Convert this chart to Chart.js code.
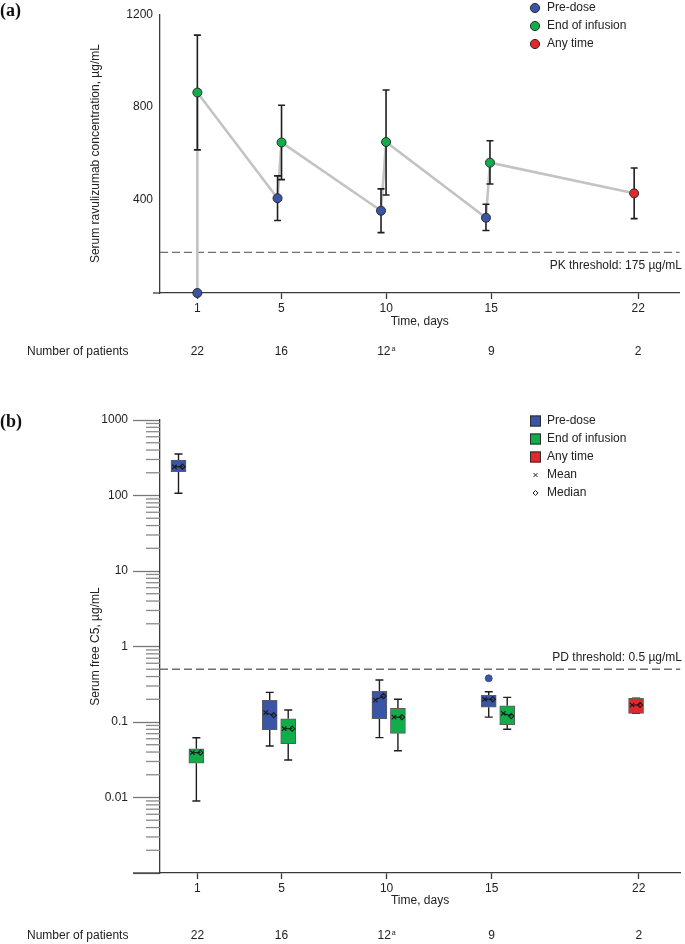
<!DOCTYPE html>
<html>
<head>
<meta charset="utf-8">
<script src="https://cdn.jsdelivr.net/npm/chart.js@4.4.1/dist/chart.umd.min.js"></script>
<style>
  body { margin: 0; background: #fff; }
  #wrap { position: relative; width: 685px; height: 944px; }
  canvas { position: absolute; left: 0; }
  #pk { top: 0; }
  #pd { top: 380px; }
</style>
</head>
<body>
<div id="wrap">
  <canvas id="pk" width="685" height="380"></canvas>
  <canvas id="pd" width="685" height="564"></canvas>
</div>
<script>
// shared x axis
const dayTicks = [1, 5, 10, 15, 22];
const patientCounts = ['22', '16', '12', '9', '2'];
const patientNotes = ['', '', 'a', '', ''];

// (a) serum ravulizumab, mean and error bars
const pkPreX = [1, 4.82, 9.75, 14.75];
const pkPreMean = [0, 408, 354, 324];
const pkPreLow = [null, 312, 260, 269];
const pkPreHigh = [null, 504, 448, 382];
const pkEoiX = [1, 5.01, 9.99, 14.94];
const pkEoiMean = [863, 648, 650, 561];
const pkEoiLow = [616, 488, 422, 469];
const pkEoiHigh = [1110, 808, 874, 655];
const pkAnyX = [21.81];
const pkAnyMean = [429];
const pkAnyLow = [320];
const pkAnyHigh = [538];
const pkTicks = [400, 800, 1200];
const pkThreshold = 175;

// (b) serum free C5, box plots
const pdPreX = [0.10, 4.44, 9.66, 14.86];
const pdPreLow = [107, 0.048, 0.062, 0.116];
const pdPreQ1 = [207, 0.079, 0.111, 0.157];
const pdPreQ3 = [295, 0.194, 0.255, 0.226];
const pdPreHigh = [355, 0.247, 0.36, 0.252];
const pdPreMean = [240, 0.133, 0.195, 0.200];
const pdPreMedian = [241, 0.123, 0.221, 0.200];
const pdEoiX = [0.95, 5.32, 10.54, 15.74];
const pdEoiLow = [0.009, 0.0314, 0.0417, 0.080];
const pdEoiQ1 = [0.0284, 0.0516, 0.0708, 0.092];
const pdEoiQ3 = [0.0442, 0.110, 0.152, 0.164];
const pdEoiHigh = [0.0619, 0.144, 0.200, 0.212];
const pdEoiMean = [0.0392, 0.0815, 0.116, 0.130];
const pdEoiMedian = [0.0392, 0.0815, 0.116, 0.120];
const pdAnyX = [21.87];
const pdAnyLow = [0.130];
const pdAnyQ1 = [0.130];
const pdAnyQ3 = [0.206];
const pdAnyHigh = [0.206];
const pdAnyMean = [0.168];
const pdAnyMedian = [0.168];
const pdOutlierX = [14.86];
const pdOutlierY = [0.379];
const pdLabelTicks = [0.01, 0.1, 1, 10, 100, 1000];
const pdThreshold = 0.5;

const C_PRE = '#3a54a6', C_EOI = '#11ad4b', C_ANY = '#e3272a';
const INK = '#222';
const AXIS = '#3a3a3a';
const FONT = '"Liberation Sans", Arial, sans-serif';

Chart.defaults.font.family = FONT;
Chart.defaults.font.size = 12;
Chart.defaults.color = INK;

const pts = (xs, ys) => xs.map((x, i) => ({ x, y: ys[i] }));
const boxes = (xs, lo, hi) => xs.map((x, i) => ({ x, y: [lo[i], hi[i]] }));

const pkPath = [];
pkPreX.forEach((x, i) => {
  pkPath.push({ x, y: pkPreMean[i] });
  pkPath.push({ x: pkEoiX[i], y: pkEoiMean[i] });
});
pkPath.push({ x: pkAnyX[0], y: pkAnyMean[0] });

function threshold(chart, value, text, textDy) {
  const { ctx, chartArea: a, scales: { y } } = chart;
  const py = y.getPixelForValue(value);
  ctx.save();
  ctx.strokeStyle = '#6e6e6e';
  ctx.lineWidth = 1.3;
  ctx.setLineDash([8, 4]);
  ctx.beginPath();
  ctx.moveTo(a.left, py);
  ctx.lineTo(a.right, py);
  ctx.stroke();
  ctx.setLineDash([]);
  ctx.fillStyle = INK;
  ctx.font = '12px ' + FONT;
  ctx.textAlign = 'right';
  ctx.textBaseline = 'middle';
  ctx.fillText(text, 682, py + textDy);
  ctx.restore();
}

function axisStub(chart, fromX) {
  const { ctx, chartArea: a } = chart;
  ctx.save();
  ctx.strokeStyle = AXIS;
  ctx.lineWidth = 1.3;
  ctx.beginPath();
  ctx.moveTo(fromX, a.bottom);
  ctx.lineTo(a.left, a.bottom);
  ctx.stroke();
  ctx.restore();
}

function patientRow(chart, cy) {
  const { ctx, scales: { x } } = chart;
  ctx.save();
  ctx.fillStyle = INK;
  ctx.textBaseline = 'middle';
  ctx.textAlign = 'left';
  ctx.font = '12px ' + FONT;
  ctx.fillText('Number of patients', 27, cy);
  dayTicks.forEach((d, i) => {
    const cx = x.getPixelForValue(d);
    ctx.font = '12px ' + FONT;
    const w = ctx.measureText(patientCounts[i]).width;
    ctx.font = '7px ' + FONT;
    const wn = patientNotes[i] ? ctx.measureText(patientNotes[i]).width + 1 : 0;
    const left = cx - (w + wn) / 2;
    ctx.font = '12px ' + FONT;
    ctx.fillText(patientCounts[i], left, cy);
    if (patientNotes[i]) {
      ctx.font = '7px ' + FONT;
      ctx.fillText(patientNotes[i], left + w + 1, cy - 3);
    }
  });
  ctx.restore();
}

function panelTag(chart, text, cy) {
  const ctx = chart.ctx;
  ctx.save();
  ctx.fillStyle = '#111';
  ctx.font = 'bold 18px "Liberation Serif", "Times New Roman", serif';
  ctx.textAlign = 'left';
  ctx.textBaseline = 'middle';
  ctx.fillText(text, 0, cy);
  ctx.restore();
}

function errorBars(chart, xs, lo, hi) {
  const { ctx, scales: { x, y } } = chart;
  ctx.save();
  ctx.strokeStyle = '#1e1e1e';
  ctx.lineWidth = 1.6;
  xs.forEach((xv, i) => {
    if (lo[i] == null) return;
    const px = x.getPixelForValue(xv);
    const y1 = y.getPixelForValue(lo[i]);
    const y2 = y.getPixelForValue(hi[i]);
    ctx.beginPath();
    ctx.moveTo(px, y1); ctx.lineTo(px, y2);
    ctx.moveTo(px - 3.5, y1); ctx.lineTo(px + 3.5, y1);
    ctx.moveTo(px - 3.5, y2); ctx.lineTo(px + 3.5, y2);
    ctx.stroke();
  });
  ctx.restore();
}

const pkPlugin = {
  id: 'pkExtras',
  beforeDatasetsDraw(chart) {
    axisStub(chart, 153);
    threshold(chart, pkThreshold, 'PK threshold: 175 µg/mL', 13);
  },
  afterDatasetDraw(chart, args) {
    if (args.index !== 0) return;
    errorBars(chart, pkPreX, pkPreLow, pkPreHigh);
    errorBars(chart, pkEoiX, pkEoiLow, pkEoiHigh);
    errorBars(chart, pkAnyX, pkAnyLow, pkAnyHigh);
  },
  afterDraw(chart) {
    const ctx = chart.ctx;
    const items = [['Pre-dose', C_PRE], ['End of infusion', C_EOI], ['Any time', C_ANY]];
    ctx.save();
    ctx.font = '12px ' + FONT;
    ctx.textBaseline = 'middle';
    ctx.textAlign = 'left';
    items.forEach(([label, color], i) => {
      const cy = 8 + i * 18;
      ctx.beginPath();
      ctx.arc(535, cy, 4.6, 0, Math.PI * 2);
      ctx.fillStyle = color;
      ctx.fill();
      ctx.lineWidth = 1;
      ctx.strokeStyle = '#2b2b2b';
      ctx.stroke();
      ctx.fillStyle = INK;
      ctx.fillText(label, 547, cy);
    });
    ctx.restore();
    patientRow(chart, 352);
    panelTag(chart, '(a)', 11);
  }
};

const pointStyle = color => ({
  backgroundColor: color,
  borderColor: '#2b2b2b',
  borderWidth: 1,
  pointRadius: 4.5,
  order: 1,
  clip: false
});

new Chart(document.getElementById('pk'), {
  type: 'scatter',
  data: {
    datasets: [
      { type: 'line', data: pkPath, borderColor: '#c3c3c3', borderWidth: 2.6, pointRadius: 0, order: 3, clip: false },
      { label: 'Pre-dose', data: pts(pkPreX, pkPreMean), ...pointStyle(C_PRE) },
      { label: 'End of infusion', data: pts(pkEoiX, pkEoiMean), ...pointStyle(C_EOI) },
      { label: 'Any time', data: pts(pkAnyX, pkAnyMean), ...pointStyle(C_ANY) }
    ]
  },
  options: {
    responsive: false,
    animation: false,
    events: [],
    layout: { padding: { top: 8, left: 0, right: 0, bottom: 0 } },
    plugins: { legend: { display: false }, tooltip: { enabled: false } },
    scales: {
      x: {
        type: 'linear', min: -0.78, max: 23.97,
        afterBuildTicks: s => { s.ticks = dayTicks.map(v => ({ value: v })); },
        grid: { drawOnChartArea: false, tickLength: 6, tickColor: AXIS, tickWidth: 1.3 },
        border: { color: AXIS, width: 1.3 },
        ticks: { padding: 2, autoSkip: false, maxRotation: 0, callback: v => String(v) },
        title: { display: true, text: 'Time, days', padding: { top: 0, bottom: 51 } },
        afterFit: s => { s.height = 87; }
      },
      y: {
        type: 'linear', min: 0, max: 1200,
        afterBuildTicks: s => { s.ticks = pkTicks.map(v => ({ value: v })); },
        grid: { drawOnChartArea: false, drawTicks: false },
        border: { color: AXIS, width: 1.3 },
        ticks: { padding: 7, autoSkip: false, callback: v => String(v) },
        title: { display: true, text: 'Serum ravulizumab concentration, µg/mL', padding: { top: 88, bottom: 0 } },
        afterFit: s => { s.width = 160; }
      }
    }
  },
  plugins: [pkPlugin]
});

// (b)
const pdGroups = [
  { xs: pdPreX, lo: pdPreLow, q1: pdPreQ1, q3: pdPreQ3, hi: pdPreHigh, mean: pdPreMean, med: pdPreMedian },
  { xs: pdEoiX, lo: pdEoiLow, q1: pdEoiQ1, q3: pdEoiQ3, hi: pdEoiHigh, mean: pdEoiMean, med: pdEoiMedian },
  { xs: pdAnyX, lo: pdAnyLow, q1: pdAnyQ1, q3: pdAnyQ3, hi: pdAnyHigh, mean: pdAnyMean, med: pdAnyMedian }
];

const isDecade = v => Math.abs(Math.log10(v) - Math.round(Math.log10(v))) < 1e-9;
const logTicks = [];
for (let e = -3; e <= 2; e++) {
  for (let k = 1; k <= 9; k++) logTicks.push(k * Math.pow(10, e));
}
logTicks.push(1000);

function drawCross(ctx, cx, cy, r) {
  ctx.beginPath();
  ctx.moveTo(cx - r, cy - r); ctx.lineTo(cx + r, cy + r);
  ctx.moveTo(cx - r, cy + r); ctx.lineTo(cx + r, cy - r);
  ctx.stroke();
}
function drawDiamond(ctx, cx, cy, r) {
  ctx.beginPath();
  ctx.moveTo(cx, cy - r); ctx.lineTo(cx + r, cy);
  ctx.lineTo(cx, cy + r); ctx.lineTo(cx - r, cy);
  ctx.closePath();
  ctx.stroke();
}

const pdPlugin = {
  id: 'pdExtras',
  beforeDatasetsDraw(chart) {
    const { ctx, chartArea: a, scales: { x, y } } = chart;
    axisStub(chart, 133);
    // minor ticks on the log axis
    ctx.save();
    ctx.strokeStyle = '#8a8a8a';
    ctx.lineWidth = 1.3;
    logTicks.filter(v => !isDecade(v)).forEach(v => {
      const py = y.getPixelForValue(v);
      ctx.beginPath();
      ctx.moveTo(a.left - 14, py);
      ctx.lineTo(a.left, py);
      ctx.stroke();
    });
    ctx.restore();
    threshold(chart, pdThreshold, 'PD threshold: 0.5 µg/mL', -11.5);
    // whiskers
    ctx.save();
    ctx.strokeStyle = '#1e1e1e';
    ctx.lineWidth = 1.4;
    pdGroups.forEach(g => g.xs.forEach((xv, i) => {
      const px = x.getPixelForValue(xv);
      const yl = y.getPixelForValue(g.lo[i]), y1 = y.getPixelForValue(g.q1[i]);
      const y3 = y.getPixelForValue(g.q3[i]), yh = y.getPixelForValue(g.hi[i]);
      ctx.beginPath();
      ctx.moveTo(px, yl); ctx.lineTo(px, y1);
      ctx.moveTo(px, y3); ctx.lineTo(px, yh);
      ctx.moveTo(px - 4, yl); ctx.lineTo(px + 4, yl);
      ctx.moveTo(px - 4, yh); ctx.lineTo(px + 4, yh);
      ctx.stroke();
    }));
    ctx.restore();
  },
  afterDatasetsDraw(chart) {
    const { ctx, scales: { x, y } } = chart;
    ctx.save();
    ctx.strokeStyle = '#1a1a1a';
    ctx.lineWidth = 1.1;
    pdGroups.forEach(g => g.xs.forEach((xv, i) => {
      const px = x.getPixelForValue(xv);
      const ym = y.getPixelForValue(g.mean[i]);
      const yd = y.getPixelForValue(g.med[i]);
      ctx.beginPath();
      ctx.moveTo(px - 4, ym); ctx.lineTo(px + 4, yd);
      ctx.stroke();
      drawCross(ctx, px - 4, ym, 2.2);
      drawDiamond(ctx, px + 4, yd, 2.6);
    }));
    ctx.restore();
  },
  afterDraw(chart) {
    const ctx = chart.ctx;
    const items = [['Pre-dose', C_PRE], ['End of infusion', C_EOI], ['Any time', C_ANY]];
    ctx.save();
    ctx.font = '12px ' + FONT;
    ctx.textBaseline = 'middle';
    ctx.textAlign = 'left';
    items.forEach(([label, color], i) => {
      const cy = 41 + i * 18;
      ctx.fillStyle = color;
      ctx.fillRect(530, cy - 5.5, 11, 11);
      ctx.strokeStyle = '#2b2b2b';
      ctx.lineWidth = 1;
      ctx.strokeRect(530.5, cy - 5, 10, 10);
      ctx.fillStyle = INK;
      ctx.fillText(label, 547, cy);
    });
    ctx.strokeStyle = '#222';
    ctx.lineWidth = 1;
    drawCross(ctx, 535.5, 95, 2);
    drawDiamond(ctx, 535.5, 113, 2.5);
    ctx.fillStyle = INK;
    ctx.fillText('Mean', 547, 95);
    ctx.fillText('Median', 547, 113);
    ctx.restore();
    patientRow(chart, 556);
    panelTag(chart, '(b)', 42);
  }
};

const boxStyle = color => ({
  backgroundColor: color,
  borderColor: '#5c5c5c',
  borderWidth: 1,
  borderSkipped: false,
  barThickness: 15,
  grouped: false
});

new Chart(document.getElementById('pd'), {
  type: 'bar',
  data: {
    datasets: [
      { label: 'Pre-dose', data: boxes(pdPreX, pdPreQ1, pdPreQ3), ...boxStyle(C_PRE) },
      { label: 'End of infusion', data: boxes(pdEoiX, pdEoiQ1, pdEoiQ3), ...boxStyle(C_EOI) },
      { label: 'Any time', data: boxes(pdAnyX, pdAnyQ1, pdAnyQ3), ...boxStyle(C_ANY) },
      { type: 'scatter', label: 'Outlier', data: pts(pdOutlierX, pdOutlierY), backgroundColor: C_PRE, borderColor: '#34488f', borderWidth: 0.8, pointRadius: 3.5 }
    ]
  },
  options: {
    responsive: false,
    animation: false,
    events: [],
    layout: { padding: { top: 40, left: 0, right: 0, bottom: 0 } },
    plugins: { legend: { display: false }, tooltip: { enabled: false } },
    scales: {
      x: {
        type: 'linear', min: -0.78, max: 23.97, offset: false,
        afterBuildTicks: s => { s.ticks = dayTicks.map(v => ({ value: v })); },
        grid: { offset: false, drawOnChartArea: false, tickLength: 6, tickColor: AXIS, tickWidth: 1.3 },
        border: { color: AXIS, width: 1.3 },
        ticks: { padding: 2, autoSkip: false, maxRotation: 0, callback: v => String(v) },
        title: { display: true, text: 'Time, days', padding: { top: 0, bottom: 36 } },
        afterFit: s => { s.height = 71; }
      },
      y: {
        type: 'logarithmic', min: 0.001, max: 1000,
        afterBuildTicks: s => { s.ticks = logTicks.map(v => ({ value: v })); },
        grid: {
          drawOnChartArea: false, tickLength: 27, tickWidth: 1.3,
          tickColor: c => (c.tick && isDecade(c.tick.value)) ? '#777' : 'rgba(0,0,0,0)'
        },
        border: { color: AXIS, width: 1.3 },
        ticks: {
          padding: 5, autoSkip: false,
          callback: v => pdLabelTicks.some(t => Math.abs(t - v) / t < 1e-6) ? String(pdLabelTicks.find(t => Math.abs(t - v) / t < 1e-6)) : ''
        },
        title: { display: true, text: 'Serum free C5, µg/mL', padding: { top: 88, bottom: 0 } },
        afterFit: s => { s.width = 160; }
      }
    }
  },
  plugins: [pdPlugin]
});
</script>
</body>
</html>
